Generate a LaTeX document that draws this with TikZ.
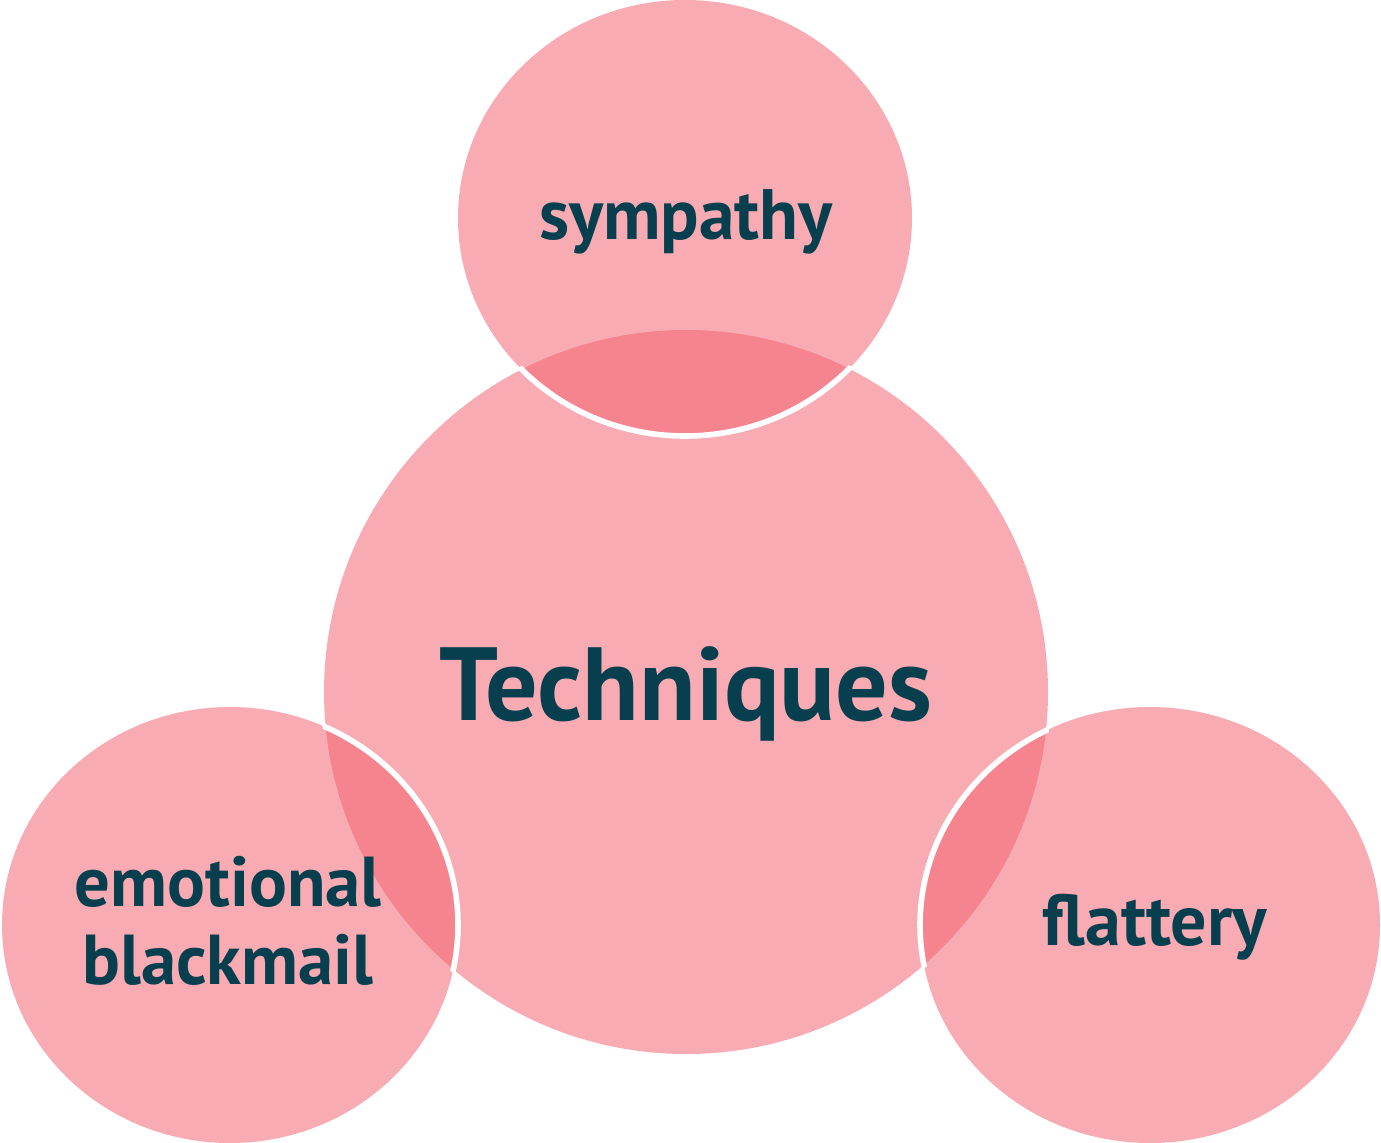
\documentclass[tikz,border=0pt]{standalone}
\usepackage{fontspec}
\setmainfont{PT Sans}
\definecolor{lightpink}{HTML}{F8ABB3}
\definecolor{darkpink}{HTML}{F5848F}
\definecolor{textteal}{HTML}{073F4F}
\begin{document}
\begin{tikzpicture}[x=0.75pt,y=-0.75pt,
  blob/.style={fill=lightpink},
  edge/.style={draw=white,line width=4.2pt},
  lbl/.style={text=textteal,font=\bfseries,align=center}]
\useasboundingbox (0,0) rectangle (1381,1142);
% big circle
\fill[lightpink] (686,692) circle (362);
% small ellipses
\fill[lightpink] (685,218) ellipse (227 and 218);
\fill[lightpink] (230,925) ellipse (228 and 218);
\fill[lightpink] (1150,925) ellipse (230 and 218);
% overlaps
\begin{scope}
  \clip (686,692) circle (362);
  \fill[darkpink] (685,218) ellipse (227 and 218);
  \fill[darkpink] (230,925) ellipse (228 and 218);
  \fill[darkpink] (1150,925) ellipse (230 and 218);
\end{scope}
% white outlines of the small ellipses where they lie on the big circle
\begin{scope}
  \clip (686,692) circle (365);
  \draw[edge] (685,218) ellipse (227 and 218);
  \draw[edge] (230,925) ellipse (228 and 218);
  \draw[edge] (1150,925) ellipse (230 and 218);
\end{scope}
\node[lbl,font=\bfseries\fontsize{78}{88}\selectfont] (tech) at (686,694) {Techniques};
\node[lbl,font=\bfseries\fontsize{53.5}{60}\selectfont] (symp) at (686,222) {sympathy};
\node[lbl,font=\bfseries\fontsize{53}{58}\selectfont] (emo) at (228,921) {emotional\\blackmail};
\node[lbl,font=\bfseries\fontsize{54}{60}\selectfont] (flat) at (1155,927) {flattery};
\end{tikzpicture}
\end{document}
